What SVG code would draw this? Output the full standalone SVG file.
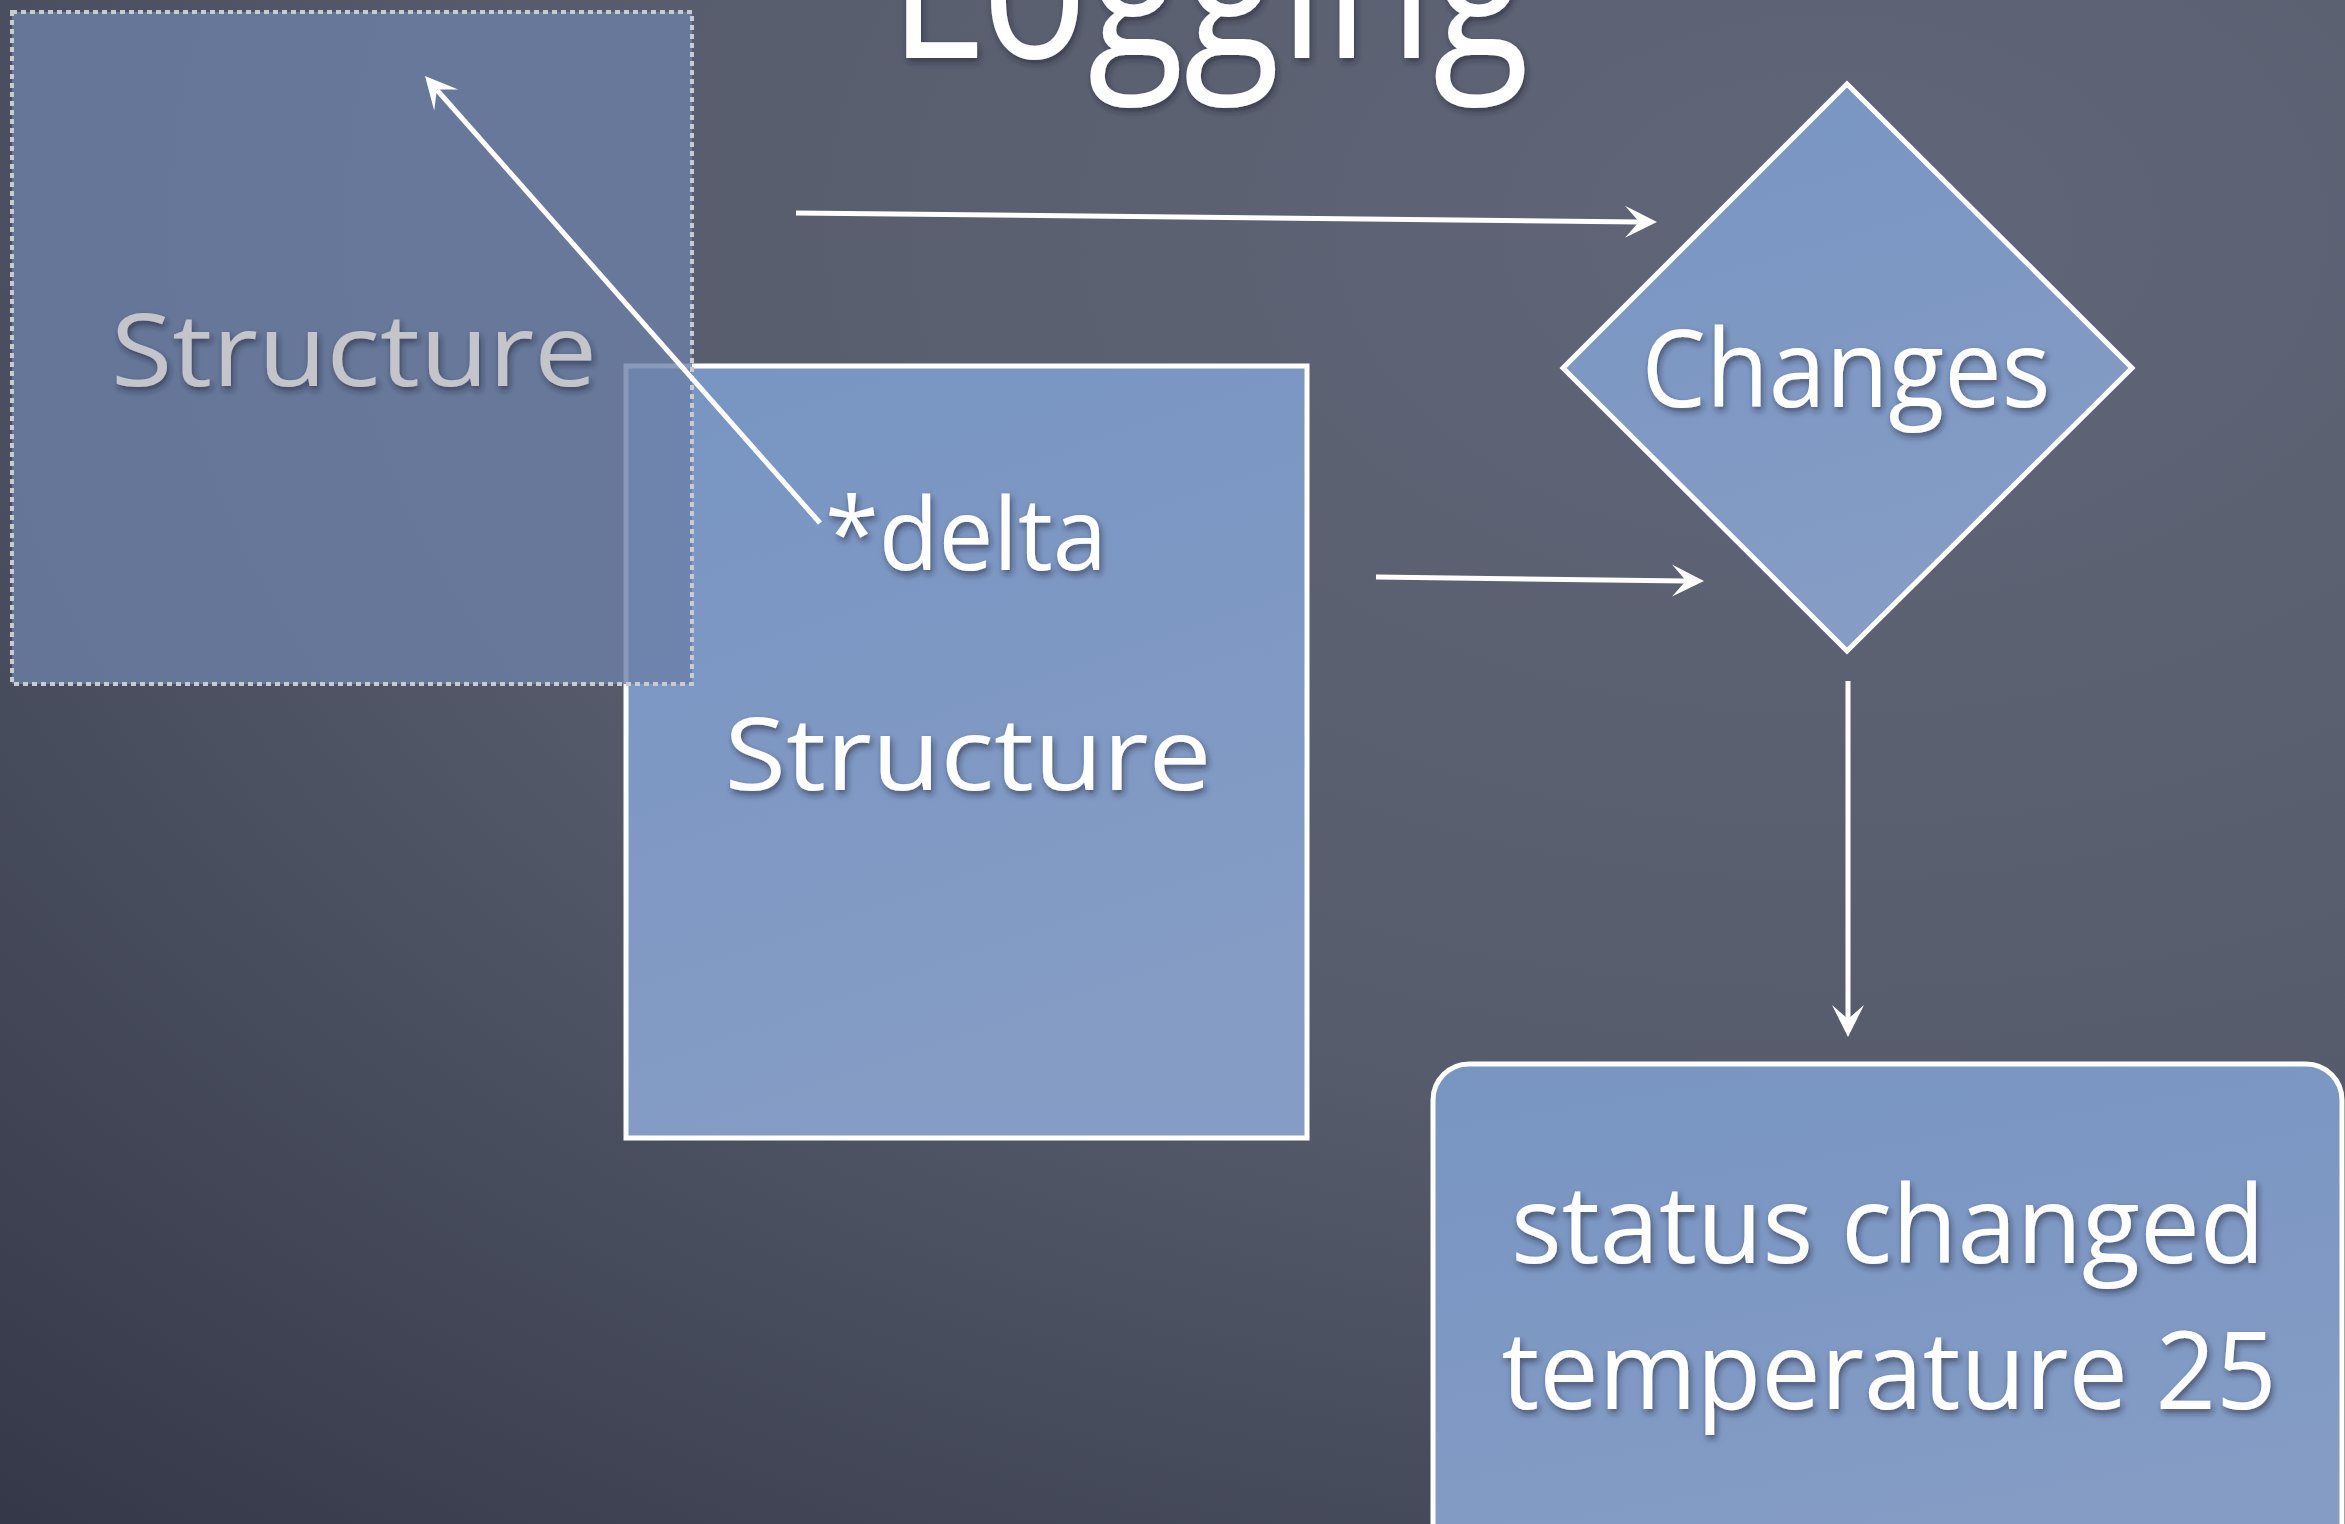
<svg xmlns="http://www.w3.org/2000/svg" width="2345" height="1524" viewBox="0 0 2345 1524">
  <defs>
    <radialGradient id="board" cx="0.78" cy="0.15" r="1.15">
      <stop offset="0" stop-color="#606677"/>
      <stop offset="0.5" stop-color="#575c6d"/>
      <stop offset="1" stop-color="#343848"/>
    </radialGradient>
    <linearGradient id="card" x1="0" y1="0" x2="0.3" y2="1">
      <stop offset="0" stop-color="#7895c2"/>
      <stop offset="0.5" stop-color="#7e98c4"/>
      <stop offset="1" stop-color="#859dc5"/>
    </linearGradient>
    <filter id="shadow" x="-10%" y="-20%" width="120%" height="150%">
      <feDropShadow dx="2" dy="4" stdDeviation="3" flood-color="#1e2433" flood-opacity="0.55"/>
    </filter>
    <style>
      .label { font-family: "Open Sans", "Liberation Sans", sans-serif; fill: #ffffff; text-anchor: middle; }
      .card { fill: url(#card); stroke: #ffffff; stroke-width: 5; }
      .link { stroke: #ffffff; stroke-width: 5; fill: none; }
      .head { fill: #ffffff; stroke: none; }
    </style>
  </defs>

  <!-- chalkboard background -->
  <rect x="0" y="0" width="2345" height="1524" fill="url(#board)"/>

  <!-- title -->
  <text class="label" x="1209" y="58" font-size="210" textLength="640" lengthAdjust="spacingAndGlyphs" filter="url(#shadow)">Logging</text>

  <!-- current structure -->
  <g id="node-structure">
    <rect class="card" x="626" y="366" width="681" height="772"/>
    <text class="label" x="966" y="570" font-size="100" textLength="282" lengthAdjust="spacingAndGlyphs" filter="url(#shadow)">*delta</text>
    <text class="label" x="968" y="790" font-size="100" textLength="487" lengthAdjust="spacingAndGlyphs" filter="url(#shadow)">Structure</text>
  </g>

  <!-- previous structure (faded, dotted outline) -->
  <g id="node-structure-prev">
    <rect x="12" y="12" width="680" height="672" fill="#6c80a6" fill-opacity="0.8" stroke="#c9cbd1" stroke-width="4" stroke-dasharray="5 4"/>
    <text x="354" y="386" font-family="Open Sans, Liberation Sans, sans-serif" font-size="100" fill="#c3c5cb" text-anchor="middle" textLength="486" lengthAdjust="spacingAndGlyphs" filter="url(#shadow)">Structure</text>
  </g>

  <!-- decision -->
  <g id="node-changes">
    <polygon class="card" points="1847,84 2132,368 1847,651 1563,368"/>
    <text class="label" x="1846" y="407" font-size="108" textLength="409" lengthAdjust="spacingAndGlyphs" filter="url(#shadow)">Changes</text>
  </g>

  <!-- log output -->
  <g id="node-log">
    <rect class="card" x="1433" y="1064" width="909" height="520" rx="36" ry="36"/>
    <text class="label" x="1888" y="1263" font-size="108" textLength="754" lengthAdjust="spacingAndGlyphs" filter="url(#shadow)">status changed</text>
    <text class="label" x="1889" y="1409" font-size="108" textLength="775" lengthAdjust="spacingAndGlyphs" filter="url(#shadow)">temperature 25</text>
  </g>

  <!-- connectors: shaft ends at the notch of each barbed head -->
  <g id="connectors">
    <line class="link" x1="820" y1="523" x2="437" y2="90"/>
    <polygon class="head" points="425,76 458.2,89.4 436.9,89.5 434.2,110.6"/>

    <line class="link" x1="796" y1="213" x2="1639" y2="222"/>
    <polygon class="head" points="1657,222 1625,205.7 1639,221.8 1625,237.7"/>

    <line class="link" x1="1376" y1="577" x2="1686" y2="581"/>
    <polygon class="head" points="1704,581 1672,564.6 1686,580.8 1672,596.6"/>

    <line class="link" x1="1848" y1="681" x2="1848" y2="1019"/>
    <polygon class="head" points="1848,1037 1832,1005 1848,1019 1864,1005"/>
  </g>
</svg>
